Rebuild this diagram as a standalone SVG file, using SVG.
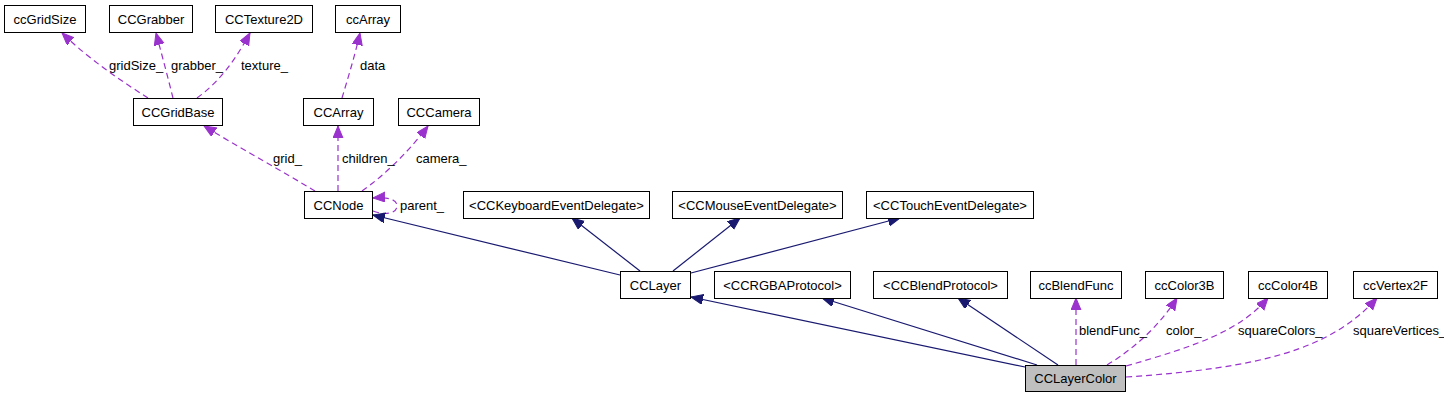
<svg xmlns="http://www.w3.org/2000/svg" width="1444" height="400" viewBox="0 0 1444 400">
<style>
.box{fill:#ffffff;stroke:#000000;stroke-width:1}
.hl{fill:#bfbfbf;stroke:#000000;stroke-width:1}
.nt{font-family:"Liberation Sans",Arial,Helvetica,sans-serif;font-size:13px;fill:#000000;text-anchor:middle}
.lt{font-family:"Liberation Sans",Arial,Helvetica,sans-serif;font-size:13px;fill:#000000}
.inh{fill:none;stroke:#191970;stroke-width:1.2;marker-end:url(#an)}
.use{fill:none;stroke:#9a32cd;stroke-width:1.2;stroke-dasharray:6,4;marker-end:url(#ap)}
</style>
<defs>
<marker id="an" markerUnits="userSpaceOnUse" markerWidth="14" markerHeight="12" refX="12" refY="5" orient="auto">
<path d="M0,0 L12,5 L0,10 z" fill="#191970" stroke="#191970" stroke-width="1"/>
</marker>
<marker id="ap" markerUnits="userSpaceOnUse" markerWidth="14" markerHeight="12" refX="12" refY="5" orient="auto">
<path d="M0,0 L12,5 L0,10 z" fill="#9a32cd" stroke="#9a32cd" stroke-width="1"/>
</marker>
</defs>
<rect width="1444" height="400" fill="#ffffff"/>
<g id="connectors">
<path class="use" d="M148,98 C120,80 90,60 62,33"/>
<path class="use" d="M173,98 C168,78 162,55 156,33"/>
<path class="use" d="M197,98 C222,80 238,55 250,33"/>
<path class="use" d="M342,98 C348,78 355,55 360,33"/>
<path class="use" d="M315,191 C280,170 240,148 204,126"/>
<path class="use" d="M338,191 L338,126"/>
<path class="use" d="M362,191 C385,175 410,150 428,126"/>
<path class="use" d="M373,211 C386,216 397,213 397,206 C397,199 387,197 373,198"/>
<path class="inh" d="M620,275 L373,215"/>
<path class="inh" d="M640,271 L572,218"/>
<path class="inh" d="M673,271 L740,218"/>
<path class="inh" d="M691,273 L900,218"/>
<path class="inh" d="M1025,367 L691,297"/>
<path class="inh" d="M1037,365 L822,298"/>
<path class="inh" d="M1058,365 L958,298"/>
<path class="use" d="M1076,365 L1076,298"/>
<path class="use" d="M1107,365 C1135,348 1160,325 1177,298"/>
<path class="use" d="M1126,366 C1200,345 1240,330 1268,298"/>
<path class="use" d="M1126,377 C1260,368 1330,350 1377,298"/>
</g>
<g id="labels">
<text class="lt" x="109" y="70">gridSize_</text>
<text class="lt" x="171" y="70">grabber_</text>
<text class="lt" x="241" y="70">texture_</text>
<text class="lt" x="360" y="70">data</text>
<text class="lt" x="273" y="163">grid_</text>
<text class="lt" x="342" y="163">children_</text>
<text class="lt" x="416" y="163">camera_</text>
<text class="lt" x="400" y="210">parent_</text>
<text class="lt" x="1079" y="335">blendFunc_</text>
<text class="lt" x="1166" y="335">color_</text>
<text class="lt" x="1238" y="335">squareColors_</text>
<text class="lt" x="1353" y="335">squareVertices_</text>
</g>
<g id="ccGridSize"><rect class="box" x="4.5" y="5.5" width="81" height="27"/><text class="nt" x="45" y="23.5">ccGridSize</text></g>
<g id="CCGrabber"><rect class="box" x="109.5" y="5.5" width="83" height="27"/><text class="nt" x="151" y="23.5">CCGrabber</text></g>
<g id="CCTexture2D"><rect class="box" x="215.5" y="5.5" width="97" height="27"/><text class="nt" x="264" y="23.5">CCTexture2D</text></g>
<g id="ccArray"><rect class="box" x="335.5" y="5.5" width="65" height="27"/><text class="nt" x="368" y="23.5">ccArray</text></g>
<g id="CCGridBase"><rect class="box" x="133.5" y="98.5" width="89" height="27"/><text class="nt" x="178" y="116.5">CCGridBase</text></g>
<g id="CCArray"><rect class="box" x="303.5" y="98.5" width="70" height="27"/><text class="nt" x="338.5" y="116.5">CCArray</text></g>
<g id="CCCamera"><rect class="box" x="398.5" y="98.5" width="81" height="27"/><text class="nt" x="439" y="116.5">CCCamera</text></g>
<g id="CCNode"><rect class="box" x="304.5" y="191.5" width="68" height="27"/><text class="nt" x="338.5" y="209.5">CCNode</text></g>
<g id="CCKeyboardEventDelegate"><rect class="box" x="463.5" y="191.5" width="186" height="27"/><text class="nt" x="556.5" y="209.5">&lt;CCKeyboardEventDelegate&gt;</text></g>
<g id="CCMouseEventDelegate"><rect class="box" x="672.5" y="191.5" width="170" height="27"/><text class="nt" x="757.5" y="209.5">&lt;CCMouseEventDelegate&gt;</text></g>
<g id="CCTouchEventDelegate"><rect class="box" x="866.5" y="191.5" width="167" height="27"/><text class="nt" x="950" y="209.5">&lt;CCTouchEventDelegate&gt;</text></g>
<g id="CCLayer"><rect class="box" x="620.5" y="271.5" width="70" height="27"/><text class="nt" x="655.5" y="289.5">CCLayer</text></g>
<g id="CCRGBAProtocol"><rect class="box" x="714.5" y="271.5" width="136" height="27"/><text class="nt" x="782.5" y="289.5">&lt;CCRGBAProtocol&gt;</text></g>
<g id="CCBlendProtocol"><rect class="box" x="873.5" y="271.5" width="134" height="27"/><text class="nt" x="940.5" y="289.5">&lt;CCBlendProtocol&gt;</text></g>
<g id="ccBlendFunc"><rect class="box" x="1030.5" y="271.5" width="91" height="27"/><text class="nt" x="1076" y="289.5">ccBlendFunc</text></g>
<g id="ccColor3B"><rect class="box" x="1145.5" y="271.5" width="78" height="27"/><text class="nt" x="1184.5" y="289.5">ccColor3B</text></g>
<g id="ccColor4B"><rect class="box" x="1248.5" y="271.5" width="79" height="27"/><text class="nt" x="1288" y="289.5">ccColor4B</text></g>
<g id="ccVertex2F"><rect class="box" x="1353.5" y="271.5" width="84" height="27"/><text class="nt" x="1395.5" y="289.5">ccVertex2F</text></g>
<g id="CCLayerColor"><rect class="hl" x="1025.5" y="365.5" width="100" height="26"/><text class="nt" x="1075.5" y="383">CCLayerColor</text></g>
</svg>
